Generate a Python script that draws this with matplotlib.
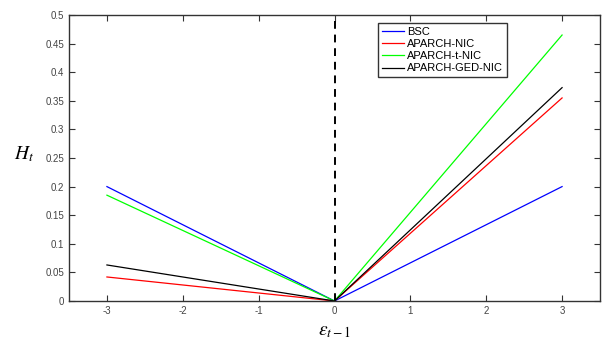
import numpy as np
import matplotlib.pyplot as plt

# news impact curves
eps = [-3, 0, 3]
bsc = [0.200, 0.0, 0.200]
aparch = [0.042, 0.0, 0.355]
aparch_t = [0.185, 0.0, 0.465]
aparch_ged = [0.063, 0.0, 0.373]

xticks = [-3, -2, -1, 0, 1, 2, 3]
yticks = [0, 0.05, 0.1, 0.15, 0.2, 0.25, 0.3, 0.35, 0.4, 0.45, 0.5]
ytick_labels = ['0', '0.05', '0.1', '0.15', '0.2', '0.25', '0.3', '0.35', '0.4', '0.45', '0.5']

plt.rcParams['font.family'] = ['Liberation Sans', 'DejaVu Sans']
plt.rcParams['mathtext.fontset'] = 'stix'

fig = plt.figure(figsize=(6.05, 3.43), dpi=100)
ax = fig.add_axes([69 / 605, 42 / 343, 531 / 605, 286 / 343])

ax.plot(eps, bsc, color='#0000ff', lw=0.9, label='BSC')
ax.plot(eps, aparch, color='#ff0000', lw=0.9, label='APARCH-NIC')
ax.plot(eps, aparch_t, color='#00ff00', lw=0.9, label='APARCH-t-NIC')
ax.plot(eps, aparch_ged, color='black', lw=0.9, label='APARCH-GED-NIC')
ax.axvline(0, color='black', ls='--', lw=1.4, dashes=(4, 3))

ax.set_xlim(-3.5, 3.5)
ax.set_ylim(0, 0.5)
ax.set_xticks(xticks)
ax.set_xticklabels([str(t) for t in xticks])
ax.set_yticks(yticks)
ax.set_yticklabels(ytick_labels)
ax.tick_params(direction='in', top=True, right=True, labelsize=7, colors='#333333', length=4, labelcolor='#444444')
for s in ax.spines.values():
    s.set_linewidth(1.0)
    s.set_color('#333333')

ax.set_ylabel('$H_t$', fontsize=14, rotation=0, labelpad=14)
ax.yaxis.set_label_coords(-0.085, 0.48)
ax.set_xlabel(r'$\varepsilon_{t-1}$', fontsize=14, labelpad=5)

leg = ax.legend(loc='upper left', bbox_to_anchor=(0.572, 0.99), fontsize=8,
                handlelength=2.0, handletextpad=0.3, borderpad=0.3,
                labelspacing=0.2, fancybox=False, framealpha=1)
leg.get_frame().set_edgecolor('#333333')
leg.get_frame().set_linewidth(1.0)

plt.savefig('out.png', dpi=100)
